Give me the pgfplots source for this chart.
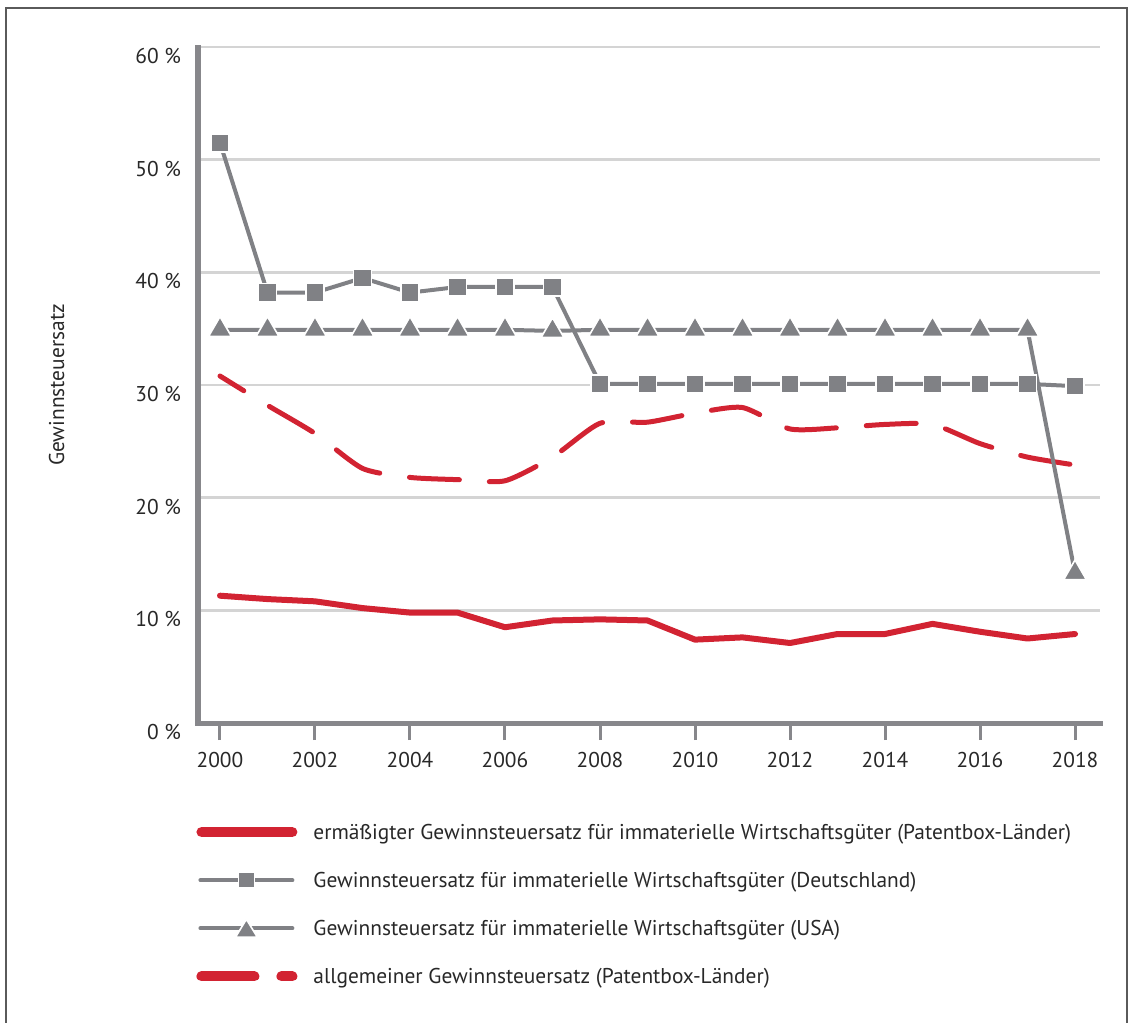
\documentclass[border=0pt]{standalone}
\usepackage{fontspec}
\setmainfont{PT Sans}
\usepackage{pgfplots}
\pgfplotsset{compat=1.18}

\definecolor{redline}{RGB}{210,35,50}
\definecolor{grayline}{RGB}{128,129,133}
\definecolor{axisgray}{RGB}{135,135,139}
\definecolor{gridgray}{RGB}{212,212,212}
\definecolor{framegray}{RGB}{90,90,90}
\definecolor{textgray}{RGB}{40,40,40}

\newcommand{\chartfont}{\fontsize{10.7bp}{13bp}\selectfont}
% fixed box for every legend image, so all of them have the same size
\newcommand{\legendbox}{\pgfpathrectangle{\pgfpoint{0bp}{-5.3bp}}{\pgfpoint{50.5bp}{10.6bp}}\pgfusepath{discard}}

\begin{document}
\begin{tikzpicture}[font=\chartfont, text=textgray]
\useasboundingbox (0,0) rectangle (566bp,-511.5bp);
% frame round the figure (bottom edge lies outside the crop)
\draw[framegray, line width=0.75bp] (3bp,-530bp) -- (3bp,-4bp) -- (563.5bp,-4bp) -- (563.5bp,-530bp);

\begin{axis}[
    at={(99bp,-361.5bp)}, anchor=south west,
    scale only axis, width=451bp, height=338bp,
    xmin=1999.537, xmax=2018.526, ymin=0, ymax=60,
    axis x line*=bottom, axis y line*=left,
    axis line style={-, line width=2.5bp, color=axisgray, line cap=rect},
    xtick={2000,2002,...,2018},
    xticklabels={2000,2002,2004,2006,2008,2010,2012,2014,2016,2018},
    ytick={0,10,...,60},
    yticklabels={0 \%,10 \%,20 \%,30 \%,40 \%,50 \%,60 \%},
    tick align=outside, major tick length=8.5bp,
    xtick style={line width=1.5bp, color=axisgray},
    ytick style={draw=none},
    every tick label/.append style={font=\chartfont, text=textgray},
    xticklabel style={yshift=-2.75bp},
    yticklabel style={xshift=3.5bp, yshift=-4.5bp},
    ymajorgrids, grid style={line width=1.3bp, color=gridgray},
    ylabel={Gewinnsteuersatz},
    ylabel style={at={(axis description cs:-0.1567,0.5)}, anchor=center, font=\chartfont, text=textgray},
    clip=false,
    legend style={at={(-0.0022,-0.1451)}, anchor=north west, draw=none, fill=none,
        inner sep=0pt, row sep=13.45bp, column sep=8bp, font=\chartfont, text=textgray,
        nodes={inner sep=0pt, text height=9bp, text depth=1.6bp}},
    legend cell align=left,
]

% ermaessigter Satz (Patentbox-Laender)
\addplot[color=redline, line width=3bp, line join=round, line cap=round,
    legend image code/.code={
        \legendbox
        \draw[solid, line width=5.3bp, line cap=round, redline] (2.65bp,0bp) -- (47.85bp,0bp);
    }] coordinates {
    (2000,11.3) (2001,11.0) (2002,10.8) (2003,10.2) (2004,9.8) (2005,9.8)
    (2006,8.5) (2007,9.1) (2008,9.2) (2009,9.1) (2010,7.4) (2011,7.6)
    (2012,7.1) (2013,7.9) (2014,7.9) (2015,8.8) (2016,8.1) (2017,7.5) (2018,7.9)
};
\addlegendentry{ermäßigter Gewinnsteuersatz für immaterielle Wirtschaftsgüter (Patentbox-Länder)}

% allgemeiner Satz, drawn below the gray lines
\addplot[forget plot, color=redline, line width=2.5bp, line cap=round, smooth, tension=0.4,
    dash pattern=on 25bp off 15bp, dash phase=11bp] coordinates {
    (2000,30.8) (2001,28.2) (2002,25.7) (2003,22.6) (2004,21.8) (2005,21.6)
    (2006,21.5) (2007,23.6) (2008,26.6) (2009,26.7) (2010,27.5) (2011,28.0)
    (2012,26.1) (2013,26.2) (2014,26.5) (2015,26.5) (2016,24.8) (2017,23.6) (2018,22.9)
};

% Deutschland
\addplot[color=grayline, line width=2bp, mark=square*, mark size=4.5bp,
    mark options={fill=grayline, draw=white, line width=0.8bp},
    legend image code/.code={
        \legendbox
        \draw[solid, line width=2bp, line cap=round, grayline] (2bp,0bp) -- (48bp,0bp);
        \filldraw[solid, fill=grayline, draw=white, line width=0.8bp] (21bp,-4bp) rectangle (29bp,4bp);
    }] coordinates {
    (2000,51.5) (2001,38.2) (2002,38.2) (2003,39.5) (2004,38.2) (2005,38.7)
    (2006,38.7) (2007,38.7) (2008,30.1) (2009,30.1) (2010,30.1) (2011,30.1)
    (2012,30.1) (2013,30.1) (2014,30.1) (2015,30.1) (2016,30.1) (2017,30.1) (2018,29.9)
};
\addlegendentry{Gewinnsteuersatz für immaterielle Wirtschaftsgüter (Deutschland)}

% USA
\addplot[color=grayline, line width=2bp, mark=triangle*, mark size=6.6bp,
    mark options={fill=grayline, draw=white, line width=0.8bp},
    legend image code/.code={
        \legendbox
        \draw[solid, line width=2bp, line cap=round, grayline] (2bp,0bp) -- (48bp,0bp);
        \filldraw[solid, fill=grayline, draw=white, line width=0.8bp] (19.5bp,-4.5bp) -- (30.5bp,-4.5bp) -- (25bp,4.5bp) -- cycle;
    }] coordinates {
    (2000,34.9) (2001,34.9) (2002,34.9) (2003,34.9) (2004,34.9) (2005,34.9)
    (2006,34.9) (2007,34.8) (2008,34.9) (2009,34.9) (2010,34.9) (2011,34.9)
    (2012,34.9) (2013,34.9) (2014,34.9) (2015,34.9) (2016,34.9) (2017,34.9) (2018,13.3)
};
\addlegendentry{Gewinnsteuersatz für immaterielle Wirtschaftsgüter (USA)}

\addlegendimage{legend image code/.code={
        \legendbox
        \draw[solid, line width=5bp, line cap=round, redline] (2.5bp,0bp) -- (29bp,0bp);
        \draw[solid, line width=5bp, line cap=round, redline] (42.5bp,0bp) -- (48bp,0bp);
    }}
\addlegendentry{allgemeiner Gewinnsteuersatz (Patentbox-Länder)}
\end{axis}
\end{tikzpicture}
\end{document}
